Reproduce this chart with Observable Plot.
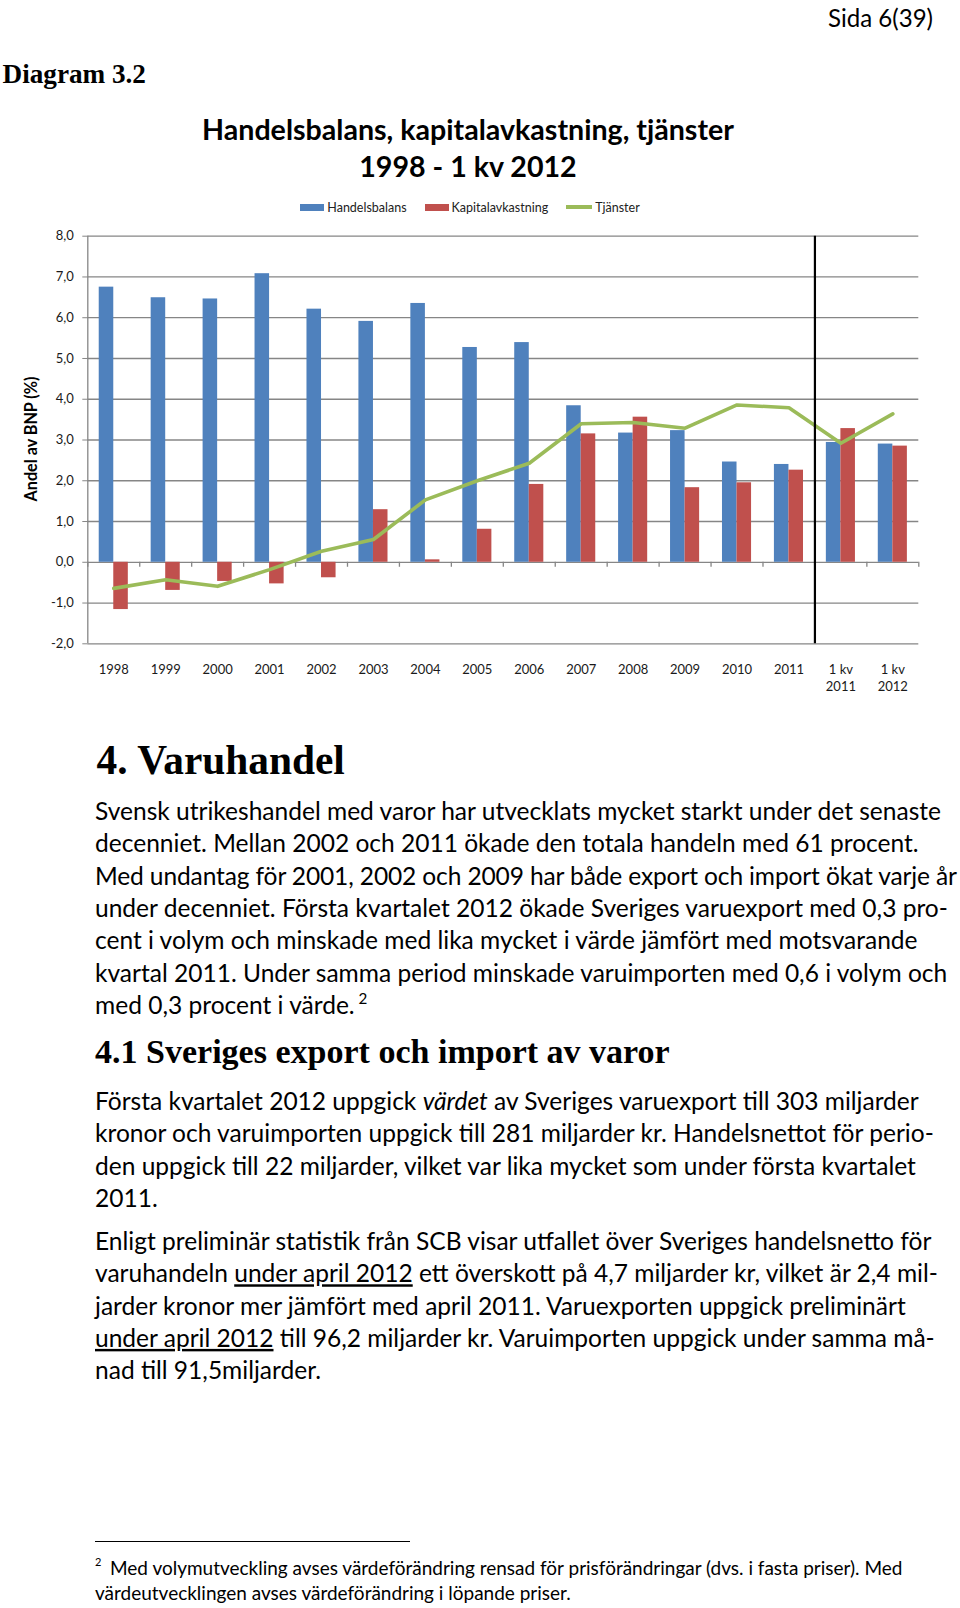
<!DOCTYPE html>
<html><head><meta charset="utf-8">
<script src="https://cdn.jsdelivr.net/npm/d3@7"></script>
<script src="https://cdn.jsdelivr.net/npm/@observablehq/plot@0.6"></script>
<style>
body{margin:0;background:#fff;}
#page{position:relative;width:960px;height:1608px;overflow:hidden;background:#fff;}
#chart{position:absolute;left:0;top:220px;}
#legend{position:absolute;left:0;top:199px;width:940px;height:16px;display:flex;justify-content:center;align-items:center;gap:18px;font-family:Lato,sans-serif;font-size:12.5px;color:#222;}
#legend .item{display:flex;align-items:center;}
#text{position:absolute;left:0;top:0;pointer-events:none;}
</style></head>
<body><div id="page"><div id="chart"></div><div id="legend"></div><svg id="text" width="960" height="1608"></svg></div>
<script>
// ---- chart data ----
const categories = ["1998","1999","2000","2001","2002","2003","2004","2005","2006","2007","2008","2009","2010","2011","1 kv 2011","1 kv 2012"];
const handelsbalans = [6.75, 6.49, 6.46, 7.08, 6.21, 5.91, 6.35, 5.27, 5.39, 3.84, 3.17, 3.23, 2.46, 2.40, 2.94, 2.90];
const kapitalavkastning = [-1.16, -0.69, -0.47, -0.53, -0.38, 1.29, 0.06, 0.81, 1.91, 3.15, 3.56, 1.83, 1.95, 2.26, 3.28, 2.85];
const tjanster = [-0.64, -0.43, -0.59, -0.18, 0.27, 0.56, 1.53, 2.00, 2.43, 3.40, 3.43, 3.29, 3.86, 3.79, 2.92, 3.64];
const yTicks = [-2, -1, 0, 1, 2, 3, 4, 5, 6, 7, 8];
const seriesNames = ["Handelsbalans", "Kapitalavkastning", "Tjänster"];
const seriesColors = ["#4F81BD", "#C0504D", "#9BBB59"];
const separatorBefore = ["1 kv 2011"];

// ---- page text ----
const pageNumber = "Sida 6(39)";
const diagramLabel = "Diagram 3.2";
const titleLines = ["Handelsbalans, kapitalavkastning, tjänster", "1998 - 1 kv 2012"];
const yLabel = "Andel av BNP (%)";
const heading1 = "4. Varuhandel";
const heading2 = "4.1 Sveriges export och import av varor";
const para1 = [
  ["Svensk utrikeshandel med varor har utvecklats mycket starkt under det senaste"],
  ["decenniet. Mellan 2002 och 2011 ökade den totala handeln med 61 procent."],
  ["Med undantag för 2001, 2002 och 2009 har både export och import ökat varje år"],
  ["under decenniet. Första kvartalet 2012 ökade Sveriges varuexport med 0,3 pro-"],
  ["cent i volym och minskade med lika mycket i värde jämfört med motsvarande"],
  ["kvartal 2011. Under samma period minskade varuimporten med 0,6 i volym och"],
  ["med 0,3 procent i värde.", {t: " 2", sup: true}]
];
const para2 = [
  ["Första kvartalet 2012 uppgick ", {t: "värdet", i: true}, " av Sveriges varuexport till 303 miljarder"],
  ["kronor och varuimporten uppgick till 281 miljarder kr. Handelsnettot för perio-"],
  ["den uppgick till 22 miljarder, vilket var lika mycket som under första kvartalet"],
  ["2011."]
];
const para3 = [
  ["Enligt preliminär statistik från SCB visar utfallet över Sveriges handelsnetto för"],
  ["varuhandeln ", {t: "under april 2012", u: true}, " ett överskott på 4,7 miljarder kr, vilket är 2,4 mil-"],
  ["jarder kronor mer jämfört med april 2011. Varuexporten uppgick preliminärt"],
  [{t: "under april 2012", u: true}, " till 96,2 miljarder kr. Varuimporten uppgick under samma må-"],
  ["nad till 91,5miljarder."]
];
const footnoteMark = "2";
const footnote = [
  "Med volymutveckling avses värdeförändring rensad för prisförändringar (dvs. i fasta priser). Med",
  "värdeutvecklingen avses värdeförändring i löpande priser."
];

// ---- chart ----
const W = 960, H = 480;
const mL = 87.3, mR = 41.7, mT = 15.7, mB = 56.7;
const bw = (W - mL - mR) / categories.length;
const side = bw * 0.22, barW = (bw - 2 * side) / 2;
const rows = categories.map((c, i) => ({category: c, h: handelsbalans[i], k: kapitalavkastning[i], t: tjanster[i]}));
const grid = "#868686";
const fmt = d => d.toFixed(1).replace(".", ",");

const chart = Plot.plot({
  width: W, height: H,
  marginLeft: mL, marginRight: mR, marginTop: mT, marginBottom: mB,
  style: {fontFamily: "Lato, sans-serif", fontSize: "13px", color: "#1a1a1a", background: "transparent", overflow: "visible"},
  x: {type: "band", domain: categories, padding: 0, round: false, axis: null},
  y: {domain: [-2, 8], nice: false, axis: null},
  marks: [
    Plot.ruleY(yTicks, {stroke: grid, strokeWidth: 1.3}),
    Plot.barY(rows, {x: "category", y: "h", fill: seriesColors[0], insetLeft: side, insetRight: side + barW}),
    Plot.barY(rows, {x: "category", y: "k", fill: seriesColors[1], insetLeft: side + barW, insetRight: side}),
    Plot.ruleX(categories, {x: d => d, y1: 0, y2: 0, insetBottom: -5, dx: -bw / 2, stroke: grid, strokeWidth: 1.3}),
    Plot.ruleX(categories.slice(-1), {x: d => d, y1: 0, y2: 0, insetBottom: -5, dx: bw / 2, stroke: grid, strokeWidth: 1.3}),
    Plot.ruleX(categories.slice(0, 1), {x: d => d, dx: -bw / 2, stroke: grid, strokeWidth: 1.3}),
    Plot.line(rows, {x: "category", y: "t", stroke: seriesColors[2], strokeWidth: 3.6, strokeLinejoin: "round"}),
    Plot.ruleX(separatorBefore, {x: d => d, dx: -bw / 2, stroke: "#000", strokeWidth: 2.2}),
    Plot.axisY(yTicks, {tickFormat: fmt, tickSize: 5, tickPadding: 9, stroke: grid, fill: "#1a1a1a", fontSize: 13, label: null}),
    Plot.axisX({tickSize: 0, tickPadding: 17, lineHeight: 1.38, fontSize: 13, fill: "#1a1a1a", label: null, tickFormat: d => d.replace(" kv ", " kv\n")})
  ]
});
document.getElementById("chart").appendChild(chart);

// ---- legend ----
const legend = document.getElementById("legend");
seriesNames.forEach((name, i) => {
  const item = document.createElement("div");
  item.className = "item";
  const sw = document.createElement("span");
  const isLine = i === 2;
  sw.style.cssText = `display:inline-block;width:${isLine ? 26 : 24}px;height:${isLine ? 3.5 : 7}px;background:${seriesColors[i]};margin-right:3px;`;
  const lab = document.createElement("span");
  lab.textContent = name;
  item.appendChild(sw); item.appendChild(lab);
  legend.appendChild(item);
});

// ---- page text ----
const NS = "http://www.w3.org/2000/svg";
const T = document.getElementById("text");
function addText(x, y, parts, css, attrs = {}) {
  const t = document.createElementNS(NS, "text");
  t.setAttribute("x", x); t.setAttribute("y", y);
  for (const [k, v] of Object.entries(attrs)) t.setAttribute(k, v);
  Object.assign(t.style, css);
  for (const p of parts) {
    const s = document.createElementNS(NS, "tspan");
    if (typeof p === "string") s.textContent = p;
    else {
      s.textContent = p.t;
      if (p.i) s.setAttribute("font-style", "italic");
      if (p.u) s.setAttribute("text-decoration", "underline");
      if (p.sup) { s.setAttribute("font-size", "0.62em"); s.setAttribute("dy", "-0.62em"); }
    }
    t.appendChild(s);
  }
  T.appendChild(t);
  return t;
}
function fitGroup(els, ref, target) {
  const k = target / ref.getComputedTextLength();
  for (const el of els) el.style.fontSize = (parseFloat(el.style.fontSize) * k) + "px";
}
const sans = {fontFamily: "Lato, sans-serif", fontSize: "20px", fill: "#000"};
const serif = {fontFamily: "'Liberation Serif', serif", fontWeight: "bold", fontSize: "28px", fill: "#000"};

const sida = addText(933, 27, [pageNumber], {...sans, fontSize: "22px"}, {"text-anchor": "end"});
fitGroup([sida], sida, 105);

const diag = addText(2.5, 82.5, [diagramLabel], {...serif, fontSize: "26px"});
fitGroup([diag], diag, 143.5);

const t1 = addText(468, 140, [titleLines[0]], {...sans, fontWeight: "bold", fontSize: "24px"}, {"text-anchor": "middle"});
const t2 = addText(468, 177, [titleLines[1]], {...sans, fontWeight: "bold", fontSize: "24px"}, {"text-anchor": "middle"});
fitGroup([t1, t2], t1, 532);

const yl = addText(0, 0, [yLabel], {...sans, fontWeight: "bold", fontSize: "15px"}, {"text-anchor": "middle", "dominant-baseline": "central", transform: "translate(30,439) rotate(-90)"});
fitGroup([yl], yl, 125);

const h1 = addText(96.5, 774.3, [heading1], {...serif, fontSize: "38px"});
fitGroup([h1], h1, 248.5);
const h2 = addText(95, 1063, [heading2], {...serif, fontSize: "30px"});
fitGroup([h2], h2, 575);

const lh = 32.3;
const bodyEls = [];
para1.forEach((ln, i) => bodyEls.push(addText(95, 820 + i * lh, ln, {...sans})));
para2.forEach((ln, i) => bodyEls.push(addText(95, 1110 + i * lh, ln, {...sans})));
para3.forEach((ln, i) => bodyEls.push(addText(95, 1250 + i * lh, ln, {...sans})));
fitGroup(bodyEls, bodyEls[0], 846.5);
for (const el of bodyEls) {
  if (el.getComputedTextLength() > 862) el.setAttribute("textLength", 862);
}

// footnote rule
const rule = document.createElementNS(NS, "line");
rule.setAttribute("x1", 95); rule.setAttribute("x2", 410);
rule.setAttribute("y1", 1541.5); rule.setAttribute("y2", 1541.5);
rule.setAttribute("stroke", "#000"); rule.setAttribute("stroke-width", 1);
T.appendChild(rule);
const fm = addText(95, 1566, [footnoteMark], {...sans, fontSize: "11px"});
const f1 = addText(110, 1575, [footnote[0]], {...sans, fontSize: "16px"});
const f2 = addText(95, 1600, [footnote[1]], {...sans, fontSize: "16px"});
fitGroup([f1, f2], f1, 793);
</script>
</body></html>
